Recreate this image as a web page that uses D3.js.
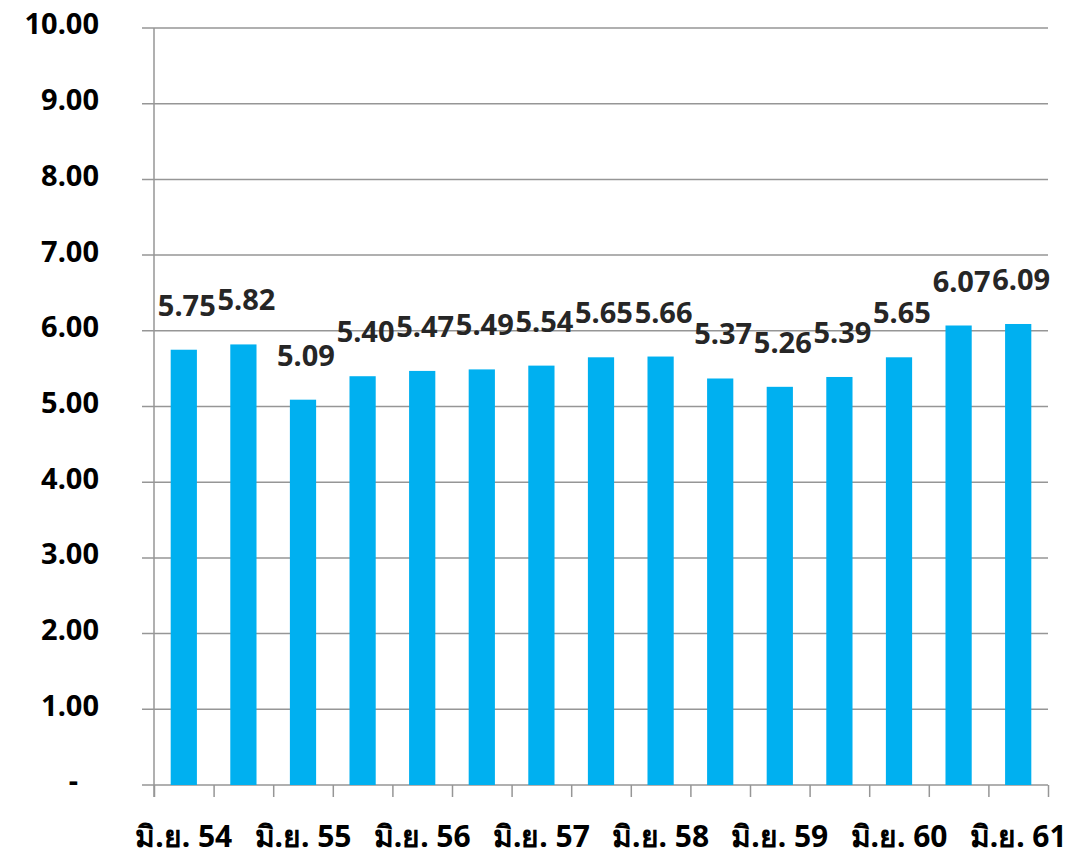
<!DOCTYPE html>
<html>
<head>
<meta charset="utf-8">
<script src="https://cdn.jsdelivr.net/npm/d3@7"></script>
<style>
  body { margin: 0; background: #fff; }
  text { font-family: 'Noto Sans', 'DejaVu Sans', sans-serif; font-weight: bold; }
</style>
</head>
<body>
<svg id="canvas"></svg>
<script>
// Half-year periods, only June is labelled on the axis.
var categories = ['มิ.ย. 54', 'ธ.ค. 54', 'มิ.ย. 55', 'ธ.ค. 55', 'มิ.ย. 56', 'ธ.ค. 56',
                  'มิ.ย. 57', 'ธ.ค. 57', 'มิ.ย. 58', 'ธ.ค. 58', 'มิ.ย. 59', 'ธ.ค. 59',
                  'มิ.ย. 60', 'ธ.ค. 60', 'มิ.ย. 61'];
var values = [5.75, 5.82, 5.09, 5.40, 5.47, 5.49, 5.54, 5.65, 5.66, 5.37, 5.26, 5.39, 5.65, 6.07, 6.09];
var axisLabels = ['มิ.ย. 54', 'มิ.ย. 55', 'มิ.ย. 56', 'มิ.ย. 57', 'มิ.ย. 58', 'มิ.ย. 59', 'มิ.ย. 60', 'มิ.ย. 61'];
var yTicks = [0, 1, 2, 3, 4, 5, 6, 7, 8, 9, 10];

// Canvas dimensions.
var canvasWidth = 1084;
var canvasHeight = 857;
var plotLeft = 154, plotRight = 1048, plotTop = 28, plotBottom = 785;
var gridColor = '#969696';

var svg = d3.select('#canvas')
            .attr('width', canvasWidth)
            .attr('height', canvasHeight);

// Scales.
var xScale = d3.scaleBand()
               .domain(categories)
               .range([plotLeft, plotRight])
               .paddingInner(0.56)
               .paddingOuter(0.28);
var edgeScale = d3.scaleLinear()
                  .domain([0, categories.length])
                  .range([plotLeft, plotRight]);
var yScale = d3.scaleLinear()
               .domain([0, 10])
               .range([plotBottom, plotTop]);

// Horizontal grid lines.
svg.append('g')
   .selectAll('line')
   .data(yTicks)
   .enter()
   .append('line')
   .attr('x1', plotLeft - 12)
   .attr('x2', plotRight)
   .attr('y1', function(d) { return yScale(d); })
   .attr('y2', function(d) { return yScale(d); })
   .attr('stroke', gridColor)
   .attr('stroke-width', 1.5);

// Vertical axis line.
svg.append('line')
   .attr('x1', plotLeft).attr('x2', plotLeft)
   .attr('y1', yScale(10)).attr('y2', plotBottom + 12)
   .attr('stroke', gridColor)
   .attr('stroke-width', 1.5);

// Bottom ticks at band edges.
var xAxis = d3.axisBottom(edgeScale)
              .tickValues(d3.range(categories.length + 1))
              .tickSize(12)
              .tickFormat('');
var xAxisG = svg.append('g')
                .attr('transform', 'translate(0,' + plotBottom + ')')
                .call(xAxis);
xAxisG.select('.domain').remove();
xAxisG.selectAll('line').attr('stroke', gridColor).attr('stroke-width', 1.5);

// Y tick labels.
svg.append('g')
   .selectAll('text')
   .data(yTicks)
   .enter()
   .append('text')
   .attr('x', function(d) { return d === 0 ? 78 : 99; })
   .attr('y', function(d) { return yScale(d) - 4; })
   .attr('dy', '0.36em')
   .attr('text-anchor', 'end')
   .attr('font-size', 29)
   .attr('fill', '#000')
   .text(function(d) { return d === 0 ? '-' : d3.format('.2f')(d); });

// Bars.
svg.append('g')
   .selectAll('rect')
   .data(values)
   .enter()
   .append('rect')
   .attr('x', function(d, i) { return xScale(categories[i]); })
   .attr('y', function(d) { return yScale(d); })
   .attr('width', xScale.bandwidth())
   .attr('height', function(d) { return plotBottom - yScale(d); })
   .attr('fill', '#00B0F0');

// Value labels.
svg.append('g')
   .selectAll('text')
   .data(values)
   .enter()
   .append('text')
   .attr('x', function(d, i) { return xScale(categories[i]) + xScale.bandwidth() / 2 + 3; })
   .attr('y', function(d) { return yScale(d) - 34; })
   .attr('text-anchor', 'middle')
   .attr('font-size', 29)
   .attr('fill', '#262626')
   .text(function(d) { return d3.format('.2f')(d); });

// X axis labels, every other period.
svg.append('g')
   .selectAll('text')
   .data(axisLabels)
   .enter()
   .append('text')
   .attr('x', function(d) { return xScale(d) + xScale.bandwidth() / 2; })
   .attr('y', 847)
   .attr('text-anchor', 'middle')
   .attr('font-size', 30)
   .attr('fill', '#000')
   .text(function(d) { return d; });
</script>
</body>
</html>
